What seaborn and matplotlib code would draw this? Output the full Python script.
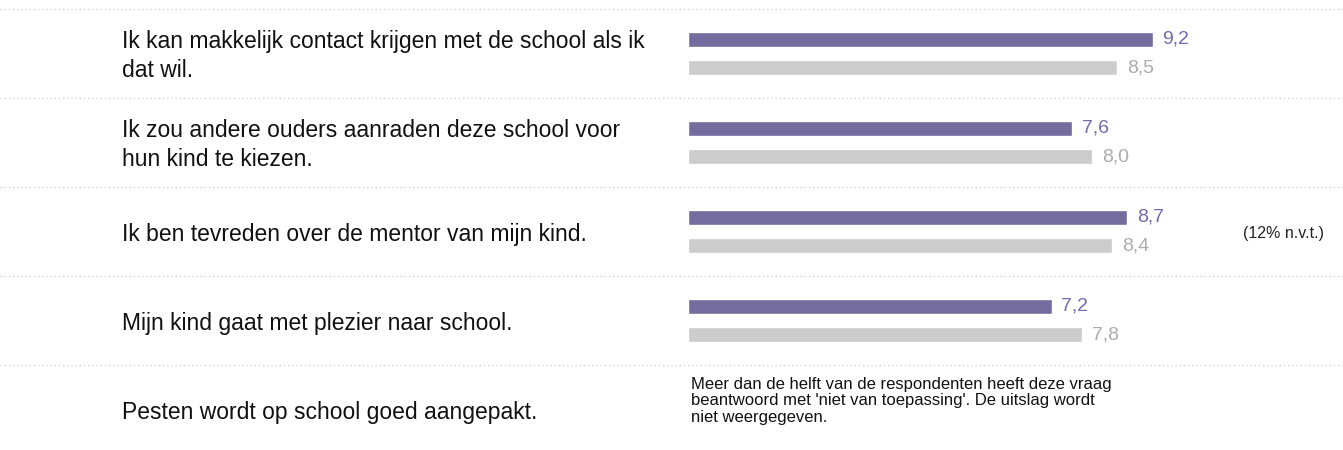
import numpy as np
import pandas as pd
import matplotlib
matplotlib.use('Agg')
import matplotlib.pyplot as plt
import matplotlib.transforms as mtransforms
import seaborn as sns

vragen = [
    "Ik kan makkelijk contact krijgen met de school als ik\ndat wil.",
    "Ik zou andere ouders aanraden deze school voor\nhun kind te kiezen.",
    "Ik ben tevreden over de mentor van mijn kind.",
    "Mijn kind gaat met plezier naar school.",
    "Pesten wordt op school goed aangepakt.",
]
school = [9.2, 7.6, 8.7, 7.2, np.nan]
vergelijking = [8.5, 8.0, 8.4, 7.8, np.nan]
groepen = ["School", "Vergelijking"]
nvt_notes = {2: "(12% n.v.t.)"}
melding = {4: "Meer dan de helft van de respondenten heeft deze vraag\n"
              "beantwoord met 'niet van toepassing'. De uitslag wordt\n"
              "niet weergegeven."}

sns.set_style('white')
plt.rcParams['font.family'] = ['Liberation Sans', 'DejaVu Sans']

rows = []
for v, s, c in zip(vragen, school, vergelijking):
    if not np.isnan(s):
        rows.append({'vraag': v, 'groep': groepen[0], 'score': s})
        rows.append({'vraag': v, 'groep': groepen[1], 'score': c})
df = pd.DataFrame(rows)

W, H = 1343, 450
fig = plt.figure(figsize=(W / 100, H / 100), dpi=100)
ax = fig.add_axes([0, 0, 1, 1])

sns.barplot(data=df, y='vraag', x='score', hue='groep', order=vragen,
            hue_order=groepen, palette=['#6e63a6', '#cccccc'],
            width=0.64, gap=0.47, orient='h', legend=False, ax=ax)

# pixel layout: 0 at x=688px, 50.5 px per point; rows of 89 px
px_per_unit = 50.5
x0 = 688
ax.set_xlim(-x0 / px_per_unit, (W - x0) / px_per_unit)
ax.set_ylim((H - 53.5) / 89, -53.5 / 89)
ax.axis('off')

for y in np.arange(-0.5, len(vragen) - 0.5, 1.0):
    ax.axhline(y, color='#d4d4d4', lw=1, ls=(0, (1, 2)))

label_colors = ['#7568b0', '#acacac']
for cont, col in zip(ax.containers, label_colors):
    ax.bar_label(cont, fmt=lambda v: f"{v:.1f}".replace('.', ','),
                 padding=7, color=col, fontsize=14)

trans = mtransforms.blended_transform_factory(ax.transAxes, ax.transData)
for i, v in enumerate(vragen):
    ax.text(122 / W, i + 0.03, v, transform=trans, ha='left', va='center',
            fontsize=16.5, color='#111111', linespacing=1.3)

for i, t in nvt_notes.items():
    ax.text(1243 / W, i + 0.02, t, transform=trans, ha='left', va='center',
            fontsize=11.5, color='#222222')

for i, t in melding.items():
    ax.text(0.05, i - 0.1, t, ha='left', va='center', fontsize=12,
            color='#111111', linespacing=1.12)

fig.savefig('out.png', dpi=100)
